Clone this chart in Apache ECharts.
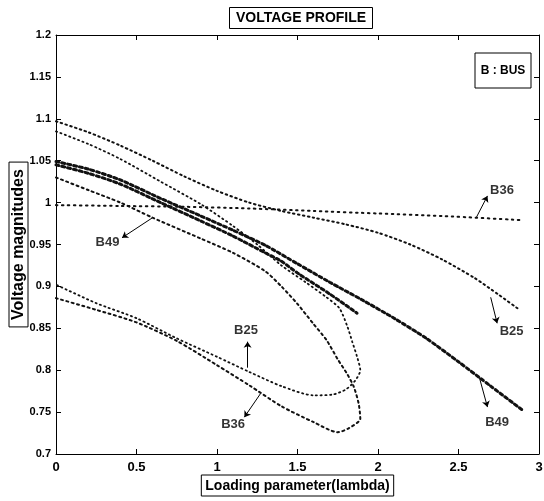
<!DOCTYPE html>
<html>
<head>
<meta charset="utf-8">
<script src="https://cdn.jsdelivr.net/npm/echarts@6/dist/echarts.min.js"></script>
<style>
  html, body { margin: 0; padding: 0; background: #fff; }
  #main { width: 544px; height: 501px; }
</style>
</head>
<body>
<div id="main"></div>
<script>
// axis ticks
var xTicks = [0, 0.5, 1, 1.5, 2, 2.5, 3];
var yTicks = [0.7, 0.75, 0.8, 0.85, 0.9, 0.95, 1, 1.05, 1.1, 1.15, 1.2];

// curves that run on to lambda = 2.9
var lamB25Full = [0, 0.2, 0.4, 0.6, 0.8, 1.0, 1.2, 1.4, 1.6, 1.8, 2.0, 2.2, 2.4, 2.6, 2.75, 2.88];
var vB25Full   = [1.097, 1.084, 1.068, 1.05, 1.031, 1.014, 1.0, 0.99, 0.982, 0.974, 0.964, 0.95, 0.932, 0.91, 0.89, 0.872];

var lamB36Full = [0, 0.4, 0.8, 1.2, 1.6, 2.0, 2.4, 2.9];
var vB36Full   = [0.997, 0.996, 0.995, 0.993, 0.99, 0.987, 0.984, 0.979];

var lamB49Full = [0, 0.2, 0.4, 0.65, 0.9, 1.1, 1.3, 1.5, 1.7, 1.9, 2.1, 2.3, 2.5, 2.7, 2.9];
var vB49Full   = [1.049, 1.04, 1.027, 1.005, 0.984, 0.967, 0.949, 0.927, 0.905, 0.884, 0.862, 0.838, 0.81, 0.781, 0.752];

// curves with the nose near lambda = 1.9
var lamB49Nose = [0, 0.2, 0.4, 0.65, 0.9, 1.1, 1.3, 1.4, 1.5, 1.7, 1.87];
var vB49Nose   = [1.045, 1.035, 1.022, 1.0, 0.978, 0.96, 0.94, 0.93, 0.916, 0.891, 0.868];

var lamB25Nose = [0, 0.2, 0.4, 0.65, 0.9, 1.1, 1.25, 1.4, 1.55, 1.68, 1.76, 1.81, 1.84, 1.87, 1.89,
                  1.86, 1.8, 1.72, 1.6, 1.4, 1.2, 1.0, 0.75, 0.5, 0.25, 0];
var vB25Nose   = [1.085, 1.07, 1.052, 1.025, 0.998, 0.972, 0.95, 0.925, 0.905, 0.887, 0.874, 0.852, 0.834, 0.816, 0.8,
                  0.788, 0.777, 0.771, 0.77, 0.781, 0.798, 0.816, 0.838, 0.862, 0.88, 0.902];

var lamB36Nose = [0, 0.2, 0.4, 0.6, 0.9, 1.1, 1.3, 1.4, 1.5, 1.6, 1.68, 1.75, 1.81, 1.85, 1.88, 1.89,
                  1.82, 1.75, 1.6, 1.4, 1.2, 1.0, 0.75, 0.5, 0.25, 0];
var vB36Nose   = [1.03, 1.015, 1.0, 0.982, 0.957, 0.94, 0.918, 0.9, 0.879, 0.855, 0.836, 0.813, 0.795, 0.78, 0.76, 0.742,
                   0.731, 0.726, 0.738, 0.757, 0.782, 0.806, 0.835, 0.857, 0.872, 0.886];

// bus labels and their arrows (data coordinates)
var tagNames = ['B49', 'B36', 'B25', 'B49', 'B25', 'B36'];
var tagPos   = [[0.32, 0.952], [2.77, 1.015], [2.83, 0.846], [2.74, 0.738], [1.18, 0.848], [1.10, 0.735]];
var arrowFrom = [[0.60, 0.982], [2.61, 0.982], [2.70, 0.887], [2.63, 0.791], [1.19, 0.803], [1.27, 0.772]];
var arrowTo   = [[0.41, 0.958], [2.68, 1.008], [2.74, 0.856], [2.68, 0.756], [1.19, 0.834], [1.17, 0.744]];

var FONT = 'Liberation Sans, Arial, sans-serif';
var INK = '#111';

function pairs(xs, ys) {
  return xs.map(function (x, i) { return [x, ys[i]]; });
}

function curve(name, xs, ys, width, dash) {
  return {
    name: name,
    type: 'line',
    data: pairs(xs, ys),
    showSymbol: false,
    smooth: 0.25,
    silent: true,
    lineStyle: { color: INK, width: width, type: dash, cap: 'round' }
  };
}

var boxText = {
  color: '#000',
  fontFamily: FONT,
  fontWeight: 'bold',
  borderColor: '#000',
  borderWidth: 1
};

var frameAxis = {
  axisLine: { onZero: false, lineStyle: { color: '#000', width: 1 } },
  axisTick: { inside: true, length: 5, lineStyle: { color: '#000' } },
  splitLine: { show: false }
};

var option = {
  backgroundColor: '#fff',
  animation: false,
  title: {
    text: 'VOLTAGE PROFILE',
    left: 229,
    top: 7,
    padding: [4, 7],
    borderColor: '#000',
    borderWidth: 1,
    textStyle: { color: '#000', fontFamily: FONT, fontWeight: 'bold', fontSize: 14 }
  },
  grid: { left: 56, right: 5, top: 35, bottom: 47, outerBoundsMode: 'none' },
  xAxis: [
    Object.assign({
      type: 'value', min: 0, max: 3, interval: 0.5, position: 'bottom',
      axisLabel: {
        color: '#000', fontFamily: FONT, fontWeight: 'bold', fontSize: 13, margin: 7,
        formatter: function (v) { return xTicks.indexOf(v) >= 0 ? String(v) : ''; }
      },
      name: 'Loading parameter(lambda)',
      nameLocation: 'middle',
      nameGap: 21,
      nameMoveOverlap: false,
      nameTextStyle: Object.assign({ fontSize: 14, padding: [4, 4, 3, 4] }, boxText)
    }, frameAxis),
    Object.assign({
      type: 'value', min: 0, max: 3, interval: 0.5, position: 'top',
      axisLabel: { show: false }
    }, frameAxis)
  ],
  yAxis: [
    Object.assign({
      type: 'value', min: 0.7, max: 1.2, interval: 0.05, position: 'left',
      axisLabel: {
        color: '#000', fontFamily: FONT, fontWeight: 'bold', fontSize: 11, margin: 5,
        formatter: function (v) {
          var r = Math.round(v * 100) / 100;
          return yTicks.indexOf(r) >= 0 ? String(r) : '';
        }
      },
      name: 'Voltage magnitudes',
      nameLocation: 'middle',
      nameGap: 28,
      nameMoveOverlap: false,
      nameRotate: 90,
      nameTextStyle: Object.assign({ fontSize: 16, padding: [2, 7, 1, 7] }, boxText)
    }, frameAxis),
    Object.assign({
      type: 'value', min: 0.7, max: 1.2, interval: 0.05, position: 'right',
      axisLabel: { show: false }
    }, frameAxis)
  ],
  graphic: [
    {
      type: 'rect',
      shape: { x: 475, y: 53, width: 56, height: 35 },
      style: { fill: '#fff', stroke: '#000', lineWidth: 1 }
    },
    {
      type: 'text',
      x: 503, y: 71,
      style: {
        text: 'B : BUS', fill: '#000', font: 'bold 12px ' + FONT,
        textAlign: 'center', textVerticalAlign: 'middle'
      }
    }
  ],
  series: [
    curve('B25', lamB25Full, vB25Full, 2, [1.5, 3.5]),
    curve('B36', lamB36Full, vB36Full, 2, [1.5, 4.5]),
    curve('B49', lamB49Full, vB49Full, 3, [3, 3]),
    curve('B49 nose', lamB49Nose, vB49Nose, 3, [3, 3]),
    curve('B25 nose', lamB25Nose, vB25Nose, 1.8, [1.2, 3.5]),
    curve('B36 nose', lamB36Nose, vB36Nose, 2, [2, 3.5]),
    {
      type: 'lines',
      coordinateSystem: 'cartesian2d',
      silent: true,
      symbol: ['none', 'arrow'],
      symbolSize: 6,
      lineStyle: { color: '#000', width: 1, opacity: 1 },
      data: arrowFrom.map(function (p, i) { return { coords: [p, arrowTo[i]] }; })
    },
    {
      type: 'scatter',
      silent: true,
      symbolSize: 0,
      data: tagPos.map(function (p, i) { return { name: tagNames[i], value: p }; }),
      label: {
        show: true, position: 'inside', formatter: '{b}',
        color: '#000', fontFamily: FONT, fontWeight: 'bold', fontSize: 13
      }
    }
  ]
};

var chart = echarts.init(document.getElementById('main'), null, { renderer: 'canvas' });
chart.setOption(option);
</script>
</body>
</html>
